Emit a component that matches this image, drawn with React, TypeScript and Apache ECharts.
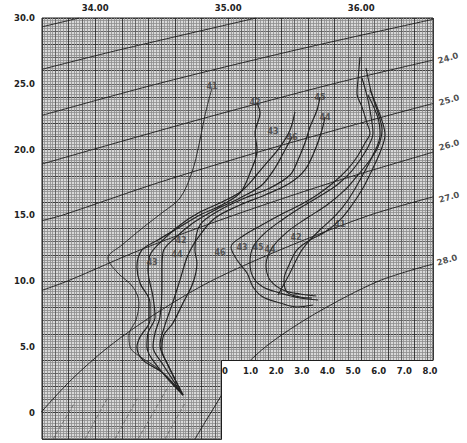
import React, { useEffect, useRef } from 'react';
import * as echarts from 'echarts';

// ---- T-S profiles (salinity, temperature) ----
const ts41 = [[34.878,24.68],[34.826,22.63],[34.78,20.35],[34.728,18.29],[34.638,16.32],[34.51,15.25],[34.374,14.19],[34.202,12.75],[34.096,11.76],[34.164,10.69],[34.284,9.55],[34.329,8.34],[34.307,7.05],[34.254,5.91],[34.262,4.99],[34.352,4.16],[34.487,3.24],[34.66,1.34]];
const ts42 = [[35.217,23.54],[35.239,22.78],[35.202,21.26],[35.217,19.97],[35.164,18.22],[35.089,16.7],[34.953,15.79],[34.788,15.03],[34.623,14.04],[34.472,13.13],[34.352,12.37],[34.314,11.08],[34.337,9.86],[34.412,8.34],[34.412,7.05],[34.337,5.75],[34.314,4.99],[34.359,4.0],[34.51,3.02],[34.66,1.34]];
const ts43 = [[35.502,22.86],[35.465,21.49],[35.389,20.19],[35.262,18.67],[35.111,16.93],[34.953,16.01],[34.788,15.25],[34.638,14.27],[34.51,13.13],[34.412,11.99],[34.397,10.85],[34.435,8.79],[34.45,7.27],[34.397,6.06],[34.389,4.99],[34.472,3.47],[34.66,1.34]];
const ts44 = [[35.728,22.47],[35.705,21.49],[35.653,19.97],[35.577,18.45],[35.465,17.46],[35.277,16.55],[35.089,15.79],[34.901,14.8],[34.788,13.51],[34.698,11.99],[34.638,10.09],[34.577,8.18],[34.525,6.67],[34.487,5.14],[34.547,3.62],[34.66,1.34]];
const ts45 = [[35.69,23.99],[35.668,23.01],[35.615,21.71],[35.577,20.5],[35.525,19.21],[35.465,18.07],[35.314,17.08],[35.126,16.32],[34.938,15.41],[34.788,14.27],[34.75,12.37],[34.765,11.38],[34.735,9.86],[34.66,8.34],[34.585,6.82],[34.51,5.75],[34.502,4.76],[34.54,3.78],[34.66,1.34]];
const ts46 = [[35.48,20.95],[35.427,19.97],[35.352,18.6],[35.254,17.31],[35.089,16.32],[34.901,15.41],[34.735,14.42],[34.6,13.28],[34.51,12.21],[34.502,10.85],[34.502,9.33],[34.487,7.27],[34.45,6.06],[34.435,4.99],[34.502,3.78],[34.66,1.34]];
const tsProfiles = [ts41, ts42, ts43, ts44, ts45, ts46];

// ---- Oxygen profiles (ml/l, temperature) ----
const o2A = [[5.268,27.04],[5.19,25.29],[5.151,24.3],[5.346,23.24],[5.541,22.02],[5.659,21.26],[5.463,20.5],[5.151,19.43],[4.761,18.45],[4.215,17.46],[3.59,16.55],[2.927,15.79],[2.146,15.03],[1.366,14.19],[0.702,13.43],[0.234,12.59],[0.468,11.61],[0.859,10.62],[1.093,9.55],[1.483,8.79],[2.146,8.34],[2.81,8.03],[3.434,8.18]];
const o2B = [[5.346,25.44],[5.58,23.77],[5.737,22.02],[5.776,21.26],[5.58,20.19],[5.268,19.21],[4.878,18.22],[4.371,17.31],[3.707,16.47],[2.927,15.56],[2.224,14.65],[1.561,13.66],[1.093,12.59],[0.976,11.38],[1.093,10.31],[1.483,9.55],[2.146,9.1],[2.927,8.72],[3.629,8.57]];
const o2C = [[5.502,26.2],[5.737,24.15],[5.971,22.78],[6.127,21.49],[5.971,20.19],[5.659,19.21],[5.19,18.07],[4.683,16.93],[3.98,15.79],[3.2,14.8],[2.42,13.73],[1.834,12.52],[1.6,11.23],[1.756,10.09],[2.263,9.33],[2.927,9.02],[3.551,8.87]];
const o2D = [[5.659,24.53],[6.049,22.63],[6.244,21.11],[6.088,19.97],[5.776,18.6],[5.385,17.08],[4.956,15.79],[4.488,14.65],[3.902,13.73],[3.317,13.13],[2.81,12.37],[2.498,11.23],[2.302,10.09],[2.42,9.17],[2.927,8.79],[3.395,8.72]];
const o2E = [[5.58,24.15],[5.971,22.4],[6.049,21.11],[5.737,19.43],[5.268,17.69],[4.8,16.17],[4.332,15.03],[3.785,14.04],[3.317,13.13],[2.927,12.14],[2.537,10.62],[2.068,8.95]];
const o2Profiles = [o2A, o2B, o2C, o2D, o2E];

// ---- Isopycnals (sigma-t) ----
const sigma21 = [[33.6,29.33],[33.88,30]];
const sigma22 = [[33.6,26.1],[34.15,27.5],[35.21,30]];
const sigma23 = [[33.6,22.6],[34.47,25],[35.48,27.5],[36.54,29.9]];
const sigma24 = [[33.6,18.9],[33.98,20],[34.86,22.5],[35.79,25],[36.54,26.8]];
const sigma25 = [[33.6,14.6],[33.75,15],[34.48,17.5],[35.29,20],[36.17,22.5],[36.54,23.5]];
const sigma26 = [[33.6,9.3],[33.79,10],[34.37,12.5],[35.04,15],[35.78,17.5],[36.54,19.8]];
const sigma27 = [[33.59,0],[33.82,2.5],[34.1,5],[34.45,7.5],[34.87,10],[35.42,12.5],[36.06,15],[36.54,16.4]];
const sigma28 = [[34.75,-2],[34.87,0],[35.03,2.5],[35.28,5],[35.65,7.5],[36.13,10],[36.54,11.3]];
const isopycnals = [sigma21, sigma22, sigma23, sigma24, sigma25, sigma26, sigma27, sigma28];
const faintIsopycnals = [
  [[33.683,-2],[33.848,0.81]],
  [[33.923,-2],[34.096,1.19]],
  [[34.149,-2],[34.322,1.19]],
  [[34.322,-2],[34.547,1.95]],
  [[34.525,-2],[34.675,0.73]],
];

// ---- Labels ----
const sigmaLabelText = ['24.0','25.0','26.0','27.0','28.0'];
const sigmaLabelPos = [[36.653,26.96],[36.66,23.77],[36.66,20.35],[36.66,16.39],[36.645,11.61]];
const stationText = ['41','42','43','46','45','44','42','44','43','46','43','45','44','42','41'];
const stationPos = [[34.878,24.76],[35.202,23.54],[35.337,21.41],[35.48,20.95],[35.69,23.99],[35.728,22.47],
  [34.645,13.05],[34.615,11.99],[34.427,11.45],[34.938,12.21],[35.104,12.52],[35.224,12.52],[35.314,12.37],[35.51,13.28],[35.84,14.27]];

const FONT = 'DejaVu Sans';

export default function App() {
  const ref = useRef<HTMLDivElement>(null);
  useEffect(() => {
    if (!ref.current) return;
    const chart = echarts.init(ref.current, undefined, { renderer: 'svg' });
    const isInt = (v: number) => Math.abs(v - Math.round(v)) < 1e-6;
    const series: any[] = [];
    isopycnals.forEach((d) => series.push({
      type: 'line', xAxisIndex: 0, yAxisIndex: 0, data: d, symbol: 'none', smooth: 0.3,
      lineStyle: { color: '#1a1a1a', width: 0.9 }, z: 3, silent: true,
    }));
    faintIsopycnals.forEach((d) => series.push({
      type: 'line', xAxisIndex: 0, yAxisIndex: 0, data: d, symbol: 'none',
      lineStyle: { color: '#666', width: 0.9, type: [4, 2] }, z: 3, silent: true,
    }));
    tsProfiles.forEach((d, i) => series.push({
      type: 'line', xAxisIndex: 0, yAxisIndex: 0, data: d, symbol: 'none', smooth: 0.35,
      lineStyle: { color: '#222', width: i === 0 ? 0.9 : 1.2 }, z: 4, silent: true,
    }));
    o2Profiles.forEach((d) => series.push({
      type: 'line', xAxisIndex: 1, yAxisIndex: 1, data: d, symbol: 'none', smooth: 0.35,
      lineStyle: { color: '#222', width: 1.1 }, z: 4, silent: true,
    }));
    series.push({
      type: 'scatter', xAxisIndex: 0, yAxisIndex: 0, clip: false, symbolSize: 1,
      itemStyle: { color: 'rgba(0,0,0,0)' }, z: 5,
      data: sigmaLabelPos.map((p, i) => [p[0], p[1], sigmaLabelText[i]]),
      label: { show: true, position: 'inside', rotate: 16, formatter: (p: any) => p.value[2],
        fontFamily: FONT, fontWeight: 'bold', fontSize: 8.5, color: '#222' },
    });
    series.push({
      type: 'scatter', xAxisIndex: 0, yAxisIndex: 0, clip: false, symbolSize: 1,
      itemStyle: { color: 'rgba(0,0,0,0)' }, z: 5,
      data: stationPos.map((p, i) => [p[0], p[1], stationText[i]]),
      label: { show: true, position: 'inside', formatter: (p: any) => p.value[2],
        fontFamily: FONT, fontWeight: 'bold', fontSize: 8, color: '#3a3a3a' },
    });

    chart.setOption({
      animation: false,
      backgroundColor: '#fff',
      grid: [
        { left: 42, top: 18, width: 391, height: 421, show: true, borderColor: '#1e1e1e', borderWidth: 1, backgroundColor: '#d9d9d9' },
        { left: 225, top: 18, width: 205, height: 342.06, show: false },
      ],
      xAxis: [
        {
          gridIndex: 0, type: 'value', position: 'top', min: 33.6, max: 36.54, interval: 0.1,
          axisLine: { show: false }, axisTick: { show: false },
          axisLabel: { margin: 6, formatter: (v: number) => (isInt(v) ? v.toFixed(2) : ''),
            fontFamily: FONT, fontWeight: 'bold', fontSize: 8.5, color: '#222' },
          splitLine: { show: true, lineStyle: { color: ['#2e2e2e', '#5a5a5a'], width: 0.9 } },
          minorTick: { show: false, splitNumber: 5 },
          minorSplitLine: { show: true, lineStyle: { color: '#8e8e8e', width: 0.8 } },
        },
        {
          gridIndex: 1, type: 'value', position: 'bottom', min: 0, max: 8, interval: 1, z: 110,
          axisLine: { show: false }, axisTick: { show: false }, splitLine: { show: false },
          axisLabel: { margin: 6, formatter: (v: number) => (v === 0 ? '0' : v.toFixed(1)),
            fontFamily: FONT, fontWeight: 'bold', fontSize: 8.5, color: '#222' },
        },
      ],
      yAxis: [
        {
          gridIndex: 0, type: 'value', min: -2, max: 30, interval: 1,
          axisLine: { show: false }, axisTick: { show: false },
          axisLabel: { margin: 7, formatter: (v: number) => {
            const r = Math.round(v);
            if (!isInt(v) || r % 5 !== 0) return '';
            return r === 0 ? '0' : r.toFixed(1);
          }, fontFamily: FONT, fontWeight: 'bold', fontSize: 8.5, color: '#222' },
          splitLine: { show: true, lineStyle: { color: ['#2e2e2e', '#5a5a5a'], width: 0.9 } },
          minorTick: { show: false, splitNumber: 5 },
          minorSplitLine: { show: true, lineStyle: { color: '#8e8e8e', width: 0.8 } },
        },
        { gridIndex: 1, type: 'value', min: 4, max: 30, show: false },
      ],
      graphic: [
        { type: 'rect', z: 100, silent: true, shape: { x: 221.5, y: 360.5, width: 225, height: 90 }, style: { fill: '#fff' } },
        { type: 'polyline', z: 101, silent: true, shape: { points: [[221.5, 439.5], [221.5, 360.5], [433, 360.5]] }, style: { stroke: '#1e1e1e', lineWidth: 1, fill: null } },
      ],
      series,
    });
    return () => chart.dispose();
  }, []);
  return <div ref={ref} style={{ position: 'fixed', left: 0, top: 0, width: 467, height: 443, background: '#fff' }} />;
}
